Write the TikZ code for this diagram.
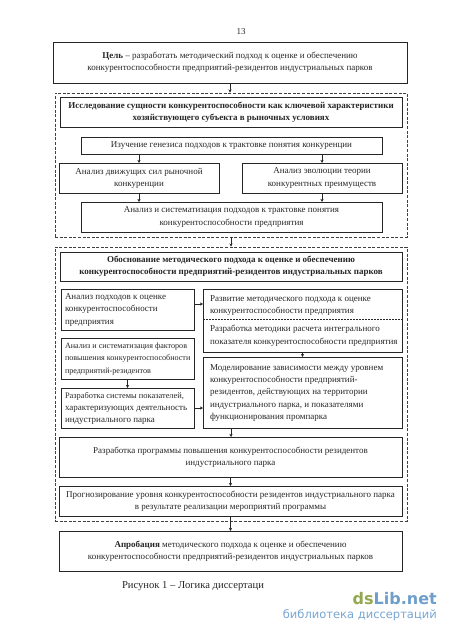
\documentclass[tikz,border=0pt]{standalone}
\usepackage{fontspec}
\setmainfont{Liberation Serif}
\newfontfamily\wmfont{DejaVu Sans}
\usetikzlibrary{arrows.meta,calc}
\tikzset{
  x=1pt,y=-1pt,
  base/.style={font=\fontsize{9}{12.1}\selectfont,inner sep=0pt,outer sep=0pt,text=black!85},
  boxc/.style={base,draw=black!85,line width=0.8pt,align=center,minimum width=#1},
  dashbox/.style={draw=black!75,line width=0.8pt,dash pattern=on 3pt off 1.6pt},
  arr/.style={draw=black!85,line width=0.6pt,-{Stealth[length=3.2pt,width=3.2pt]}},
}
\newcommand{\bxt}[2]{\makebox[#1][l]{\begin{tabular}{@{}l@{}}#2\end{tabular}}}
\begin{document}
\begin{tikzpicture}
\useasboundingbox (0,0) rectangle (450,636);
\node[base] (pg) at (241,32) {13};
% dashed groups
\node[dashbox,minimum width=352pt,minimum height=144pt,inner sep=0pt] (dA) at (231,165) {};
\node[dashbox,minimum width=352pt,minimum height=274pt,inner sep=0pt] (dB) at (231,384) {};
% boxes
\node[boxc=354pt,minimum height=41pt] (goal) at (230,62.5) {\textbf{Цель} – разработать методический подход к оценке и обеспечению\\конкурентоспособности предприятий-резидентов индустриальных парков};
\node[boxc=342pt,minimum height=30pt] (h1) at (231,112) {\textbf{Исследование сущности конкурентоспособности как ключевой характеристики}\\\textbf{хозяйствующего субъекта в рыночных условиях}};
\node[boxc=301pt,minimum height=17pt] (gen) at (231.5,145.5) {Изучение генезиса подходов к трактовке понятия конкуренции};
\node[boxc=160pt,minimum height=30pt] (lft) at (139,178) {Анализ движущих сил рыночной\\конкуренции};
\node[boxc=160pt,minimum height=30pt] (rgt) at (322,178) {Анализ эволюции теории\\конкурентных преимуществ};
\node[boxc=301pt,minimum height=30pt] (sys) at (231.5,217) {Анализ и систематизация подходов к трактовке понятия\\конкурентоспособности предприятия};
\node[boxc=342pt,minimum height=29pt] (h2) at (231,266.5) {\textbf{Обоснование методического подхода к оценке и обеспечению}\\\textbf{конкурентоспособности предприятий-резидентов индустриальных парков}};
\node[boxc=133pt,minimum height=41pt] (a) at (127.5,309.5) {\raisebox{-1pt}{\bxt{125pt}{Анализ подходов к оценке\\конкурентоспособности\\предприятия}}};
\node[boxc=133pt,minimum height=41pt] (c) at (127.5,358.5) {\bxt{125pt}{\fontsize{8.1}{12.1}\selectfont Анализ и систематизация факторов\\\fontsize{8.1}{12.1}\selectfont повышения конкурентоспособности\\\fontsize{8.1}{12.1}\selectfont предприятий-резидентов}};
\node[boxc=133pt,minimum height=40pt] (d) at (127.5,408) {\bxt{125pt}{\fontsize{8.4}{12.1}\selectfont Разработка системы показателей,\\характеризующих деятельность\\индустриального парка}};
\node[boxc=199pt,minimum height=63pt] (b) at (302.5,320.5) {\raisebox{1.5pt}{\bxt{185pt}{Развитие методического подхода к оценке\\конкурентоспособности предприятия\\[6pt]Разработка методики расчета интегрального\\показателя конкурентоспособности предприятия}}};
\coordinate (bl) at (b.west |- 0,319);
\coordinate (br) at (b.east |- 0,319);
\draw[black!85,line width=0.5pt,dash pattern=on 2pt off 1pt] (bl) -- (br);
\node[boxc=199pt,minimum height=71pt] (e) at (302.5,392.5) {\bxt{185pt}{Моделирование зависимости между уровнем\\конкурентоспособности предприятий-\\резидентов, действующих на территории\\индустриального парка, и показателями\\функционирования промпарка}};
\node[boxc=343pt,minimum height=40pt] (f) at (230.5,457) {Разработка программы повышения конкурентоспособности резидентов\\индустриального парка};
\node[boxc=343pt,minimum height=30pt] (g) at (230.5,501) {Прогнозирование уровня конкурентоспособности резидентов индустриального парка\\в результате реализации мероприятий программы};
\node[boxc=343pt,minimum height=40pt] (h) at (230.5,551) {\textbf{Апробация} методического подхода к оценке и обеспечению\\конкурентоспособности предприятий-резидентов индустриальных парков};
\node[base,font=\fontsize{10.6}{12}\selectfont,anchor=west] (cap) at (122,586) {Рисунок 1 – Логика диссертаци};
% connectors
\draw[arr] (goal.south) -- (goal.south |- dA.north);
\draw[arr] (dA.south) -- (dB.north);
\draw[arr] (lft.north |- gen.south) -- (lft.north);
\draw[arr] (rgt.north |- gen.south) -- (rgt.north);
\draw[arr] (lft.south) -- (lft.south |- sys.north);
\draw[arr] (rgt.south) -- (rgt.south |- sys.north);
\draw[arr] (a.east |- 0,304) -- (b.west |- 0,304);
\draw[arr] (c.south -| d.north) -- (d.north);
\draw[arr] (d.east) -- (e.west |- d.east);
\draw[arr] (b.south) -- (e.north);
\draw[arr] (dB.center |- e.south) -- (dB.center |- f.north);
\draw[arr] (f.south) -- (g.north);
\draw[arr] (g.south) -- (g.south |- h.north);
% watermark
\node[inner sep=0pt,anchor=east,font=\wmfont\bfseries\fontsize{16}{17}\selectfont] (wm1) at (437,599) {\textcolor[HTML]{93A84E}{ds}\textcolor[HTML]{6E9FCB}{Lib.net}};
\node[inner sep=0pt,anchor=east,font=\wmfont\fontsize{11.5}{12}\selectfont,text={rgb,255:red,120;green,165;blue,210}] (wm2) at (437,615) {библиотека диссертаций};
\end{tikzpicture}
\end{document}
